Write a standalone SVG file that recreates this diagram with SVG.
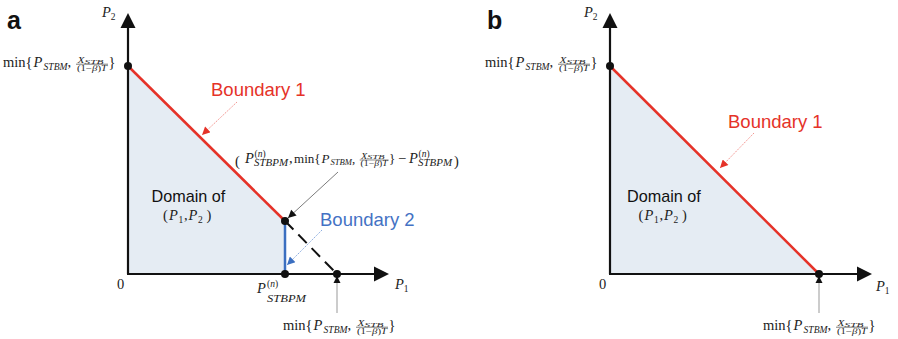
<svg xmlns="http://www.w3.org/2000/svg" xmlns:xlink="http://www.w3.org/1999/xlink" width="898" height="339" viewBox="0 0 898 339">
<style>
.m{font-family:"Liberation Serif",serif;font-size:14.5px;fill:#222}
.mi{font-family:"Liberation Serif",serif;font-size:14.5px;font-style:italic;fill:#222}
.sub{font-family:"Liberation Serif",serif;font-size:9.6px;font-style:italic;fill:#222}
.sup{font-family:"Liberation Serif",serif;font-size:9.5px;fill:#222}
.fr{font-family:"Liberation Serif",serif;font-size:8.5px;fill:#222}
.fri{font-family:"Liberation Serif",serif;font-size:8.5px;font-style:italic;fill:#222}
.frs{font-family:"Liberation Serif",serif;font-size:6.5px;font-style:italic;fill:#222}
.sans{font-family:"Liberation Sans",Arial,sans-serif}
.panel{font-family:"Liberation Sans",Arial,sans-serif;font-size:25px;font-weight:bold;fill:#111}
.axis{stroke:#111;stroke-width:2.2;fill:none}
.dom{fill:#e5ecf3}
.dot{fill:#111}
.bl{font-family:"Liberation Sans",Arial,sans-serif;font-size:18.5px}
</style>
<defs>
<marker id="ar" viewBox="0 0 10 10" refX="10" refY="5" markerWidth="9" markerHeight="8" markerUnits="userSpaceOnUse" orient="auto"><path d="M0,0 L10,5 L0,10 z" fill="#e53228"/></marker>
<marker id="ab" viewBox="0 0 10 10" refX="10" refY="5" markerWidth="9" markerHeight="8" markerUnits="userSpaceOnUse" orient="auto"><path d="M0,0 L10,5 L0,10 z" fill="#3b6fc0"/></marker>
<marker id="ak" viewBox="0 0 10 10" refX="10" refY="5" markerWidth="9" markerHeight="8" markerUnits="userSpaceOnUse" orient="auto"><path d="M0,0 L10,5 L0,10 z" fill="#111"/></marker>
<g id="minlabel">
<text class="m" x="0" y="0">min{</text>
<text class="mi" x="30.5" y="0">P</text>
<text class="sub" x="40.5" y="3" textLength="24" lengthAdjust="spacingAndGlyphs">STBM</text>
<text class="m" x="64.5" y="0">,</text>
<text class="fri" x="74.5" y="-4.2" textLength="7" lengthAdjust="spacingAndGlyphs">X</text>
<text class="frs" x="81.5" y="-3.4" textLength="19" lengthAdjust="spacingAndGlyphs">STB</text>
<line x1="73" y1="-2.8" x2="105" y2="-2.8" stroke="#222" stroke-width="0.6"/>
<text class="fr" x="74" y="4.2" textLength="30" lengthAdjust="spacingAndGlyphs">(1−<tspan font-style="italic">β</tspan>)<tspan font-style="italic">T</tspan></text>
<text class="m" x="105.5" y="0">}</text>
</g>
</defs>

<g id="panel-a">
<text class="panel" x="7" y="29">a</text>
<polygon id="domain-a" class="dom" points="128,66 285,221 285,274 128,274"/>
<g id="axes-a">
<line class="axis" x1="128" y1="274" x2="128" y2="27"/>
<polygon points="120.5,28 135.5,28 128,13" fill="#111"/>
<line class="axis" x1="127" y1="274" x2="375" y2="274"/>
<polygon points="374,266.5 374,281.5 389,274" fill="#111"/>
<text class="mi" x="102" y="17">P<tspan class="sup" font-style="normal" dy="3">2</tspan></text>
<text class="mi" x="395" y="289">P<tspan class="sup" font-style="normal" dy="3">1</tspan></text>
<text class="m" x="117" y="289">0</text>
</g>
<g id="connectors-a">
<line x1="128" y1="66" x2="285" y2="221" stroke="#e53228" stroke-width="2.5"/>
<line x1="285" y1="221" x2="285" y2="274" stroke="#3b6fc0" stroke-width="2.5"/>
<line x1="285" y1="221" x2="337" y2="274" stroke="#111" stroke-width="2" stroke-dasharray="12,7"/>
<line x1="237" y1="102" x2="202" y2="135" stroke="#f08a84" stroke-width="0.9" stroke-dasharray="1.5,1" marker-end="url(#ar)"/>
<line x1="322" y1="230" x2="287" y2="265" stroke="#7fa3db" stroke-width="0.9" stroke-dasharray="1.5,1" marker-end="url(#ab)"/>
<line x1="338" y1="172" x2="288" y2="218" stroke="#444" stroke-width="0.7" marker-end="url(#ak)"/>
<line x1="337" y1="313" x2="337" y2="283" stroke="#999" stroke-width="1"/>
<polygon points="333.5,283 340.5,283 337,276" fill="#111"/>
</g>
<g id="node-a-ytop"><circle class="dot" cx="128" cy="66" r="4"/><use xlink:href="#minlabel" transform="translate(3,67)"/></g>
<g id="node-a-corner"><circle class="dot" cx="285" cy="221" r="4"/></g>
<g id="node-a-pn"><circle class="dot" cx="285" cy="274" r="4"/>
<text class="mi" x="257" y="293" font-size="13.5px">P</text>
<text class="sup" x="267" y="287">(<tspan font-style="italic">n</tspan>)</text>
<text class="sub" x="267" y="302" textLength="39" lengthAdjust="spacingAndGlyphs">STBPM</text>
</g>
<g id="node-a-xend"><circle class="dot" cx="337" cy="274" r="4"/><use xlink:href="#minlabel" transform="translate(283,330)"/></g>
<g id="label-domain-a">
<text class="sans" x="151.5" y="202" font-size="16.2px" fill="#111">Domain of</text>
<text class="m" x="163" y="220" font-size="15.5px">(</text>
<text class="mi" x="169" y="220" font-size="15.5px">P</text>
<text class="sup" x="178.5" y="223" font-size="10.5px">1</text>
<text class="m" x="184" y="220" font-size="15.5px">,</text>
<text class="mi" x="188.5" y="220" font-size="15.5px">P</text>
<text class="sup" x="198" y="223" font-size="10.5px">2</text>
<text class="m" x="206.5" y="220" font-size="15.5px">)</text>
</g>
<text id="label-b1a" class="bl" x="211" y="96" fill="#e53228">Boundary 1</text>
<text id="label-b2a" class="bl" x="320" y="226" fill="#4472c4">Boundary 2</text>
<g id="annotation">
<text class="m" x="235" y="165.5" font-size="19px">(</text>
<text class="mi" x="245" y="162.5" font-size="13px">P</text>
<text class="sup" x="254.5" y="156.5" font-size="8.5px">(<tspan font-style="italic">n</tspan>)</text>
<text class="sub" x="254" y="166" font-size="8.6px" textLength="34" lengthAdjust="spacingAndGlyphs">STBPM</text>
<text class="m" x="289" y="162.5" font-size="13px">,</text>
<use xlink:href="#minlabel" transform="translate(294,162.5) scale(0.9)"/>
<text class="m" x="398" y="162.5" font-size="13px">−</text>
<text class="mi" x="409" y="162.5" font-size="13px">P</text>
<text class="sup" x="418.5" y="156.5" font-size="8.5px">(<tspan font-style="italic">n</tspan>)</text>
<text class="sub" x="418" y="166" font-size="8.6px" textLength="34" lengthAdjust="spacingAndGlyphs">STBPM</text>
<text class="m" x="454" y="165.5" font-size="19px">)</text>
</g>
</g>

<g id="panel-b">
<text class="panel" x="487" y="29">b</text>
<polygon id="domain-b" class="dom" points="610,66 819,274 610,274"/>
<g id="axes-b">
<line class="axis" x1="610" y1="274" x2="610" y2="27"/>
<polygon points="602.5,28 617.5,28 610,13" fill="#111"/>
<line class="axis" x1="609" y1="274" x2="858" y2="274"/>
<polygon points="857,266.5 857,281.5 872,274" fill="#111"/>
<text class="mi" x="584" y="17">P<tspan class="sup" font-style="normal" dy="3">2</tspan></text>
<text class="mi" x="876" y="291">P<tspan class="sup" font-style="normal" dy="3">1</tspan></text>
<text class="m" x="599" y="289">0</text>
</g>
<g id="connectors-b">
<line x1="610" y1="66" x2="819" y2="274" stroke="#e53228" stroke-width="2.5"/>
<line x1="754" y1="133" x2="720" y2="168" stroke="#f08a84" stroke-width="0.9" stroke-dasharray="1.5,1" marker-end="url(#ar)"/>
<line x1="819" y1="313" x2="819" y2="283" stroke="#999" stroke-width="1"/>
<polygon points="815.5,283 822.5,283 819,276" fill="#111"/>
</g>
<g id="node-b-ytop"><circle class="dot" cx="610" cy="66" r="4"/><use xlink:href="#minlabel" transform="translate(485,67)"/></g>
<g id="node-b-xend"><circle class="dot" cx="819" cy="274" r="4"/><use xlink:href="#minlabel" transform="translate(763,330)"/></g>
<g id="label-domain-b">
<text class="sans" x="627" y="202" font-size="16.2px" fill="#111">Domain of</text>
<text class="m" x="638.5" y="220" font-size="15.5px">(</text>
<text class="mi" x="644.5" y="220" font-size="15.5px">P</text>
<text class="sup" x="654" y="223" font-size="10.5px">1</text>
<text class="m" x="659.5" y="220" font-size="15.5px">,</text>
<text class="mi" x="664" y="220" font-size="15.5px">P</text>
<text class="sup" x="673.5" y="223" font-size="10.5px">2</text>
<text class="m" x="682" y="220" font-size="15.5px">)</text>
</g>
<text id="label-b1b" class="bl" x="728" y="128" fill="#e53228">Boundary 1</text>
</g>
</svg>
